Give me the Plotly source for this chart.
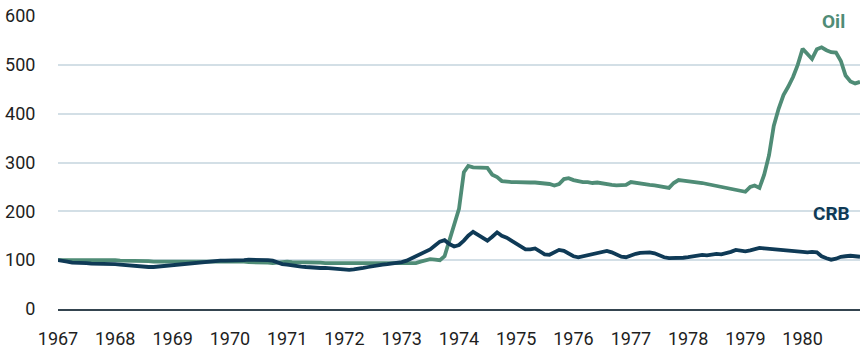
import pandas as pd
import plotly.graph_objects as go

# Monthly index values (Jan 1967 = 100), Jan 1967 .. Jan 1981
oil_1967 = [100, 100, 100, 100, 101, 101, 101, 101, 100, 100, 100, 100]
oil_1968 = [100, 99, 99, 99, 98, 98, 98, 98, 97, 97, 97, 97]
oil_1969 = [97, 97, 97, 97, 97, 97, 97, 98, 98, 98, 98, 98]
oil_1970 = [98, 97, 97, 97, 96, 96, 96, 95, 95, 94, 95, 97]
oil_1971 = [97, 96, 96, 96, 95, 95, 95, 95, 94, 94, 94, 94]
oil_1972 = [94, 93, 93, 93, 93, 93, 93, 93, 93, 93, 93, 93]
oil_1973 = [93, 93, 94, 94, 97, 100, 102, 101, 100, 108, 140, 175]
oil_1974 = [205, 280, 293, 290, 290, 289, 289, 275, 270, 262, 260, 260]
oil_1975 = [260, 259, 260, 259, 259, 258, 257, 256, 253, 256, 266, 268]
oil_1976 = [264, 261, 260, 260, 258, 259, 257, 256, 254, 253, 253, 254]
oil_1977 = [260, 258, 257, 256, 254, 253, 251, 249, 248, 258, 264, 263]
oil_1978 = [262, 261, 260, 258, 256, 254, 252, 250, 248, 246, 244, 241]
oil_1979 = [240, 250, 253, 248, 275, 315, 375, 410, 438, 455, 475, 500]
oil_1980 = [533, 522, 512, 532, 536, 530, 526, 525, 508, 478, 466, 462]
oil_1981 = [465]

crb_1967 = [100, 99, 97, 95, 95, 94, 94, 93, 93, 92, 92, 93]
crb_1968 = [92, 91, 90, 89, 88, 87, 86, 86, 86, 87, 88, 89]
crb_1969 = [90, 91, 92, 93, 94, 95, 96, 97, 98, 98, 99, 99]
crb_1970 = [99, 100, 100, 100, 101, 101, 101, 100, 100, 99, 95, 92]
crb_1971 = [91, 89, 88, 87, 86, 85, 85, 84, 84, 83, 82, 81]
crb_1972 = [80, 80, 81, 82, 84, 86, 88, 90, 91, 92, 93, 95]
crb_1973 = [96, 99, 103, 107, 112, 117, 122, 130, 138, 141, 133, 128]
crb_1974 = [131, 140, 150, 158, 152, 146, 140, 148, 157, 150, 146, 140]
crb_1975 = [133, 127, 122, 122, 124, 118, 112, 111, 116, 121, 119, 114]
crb_1976 = [108, 106, 108, 111, 114, 115, 118, 119, 116, 111, 107, 106]
crb_1977 = [110, 113, 115, 115, 116, 114, 109, 106, 104, 104, 104, 105]
crb_1978 = [106, 108, 109, 111, 110, 112, 113, 112, 114, 117, 121, 119]
crb_1979 = [118, 120, 123, 125, 124, 123, 121, 120, 119, 119, 118, 117]
crb_1980 = [117, 116, 117, 116, 108, 104, 101, 103, 107, 108, 109, 108]
crb_1981 = [107]

tick_years = [str(y) for y in range(1967, 1981)]

oil = (oil_1967 + oil_1968 + oil_1969 + oil_1970 + oil_1971 + oil_1972 + oil_1973 +
       oil_1974 + oil_1975 + oil_1976 + oil_1977 + oil_1978 + oil_1979 + oil_1980 + oil_1981)
crb = (crb_1967 + crb_1968 + crb_1969 + crb_1970 + crb_1971 + crb_1972 + crb_1973 +
       crb_1974 + crb_1975 + crb_1976 + crb_1977 + crb_1978 + crb_1979 + crb_1980 + crb_1981)
dates = pd.date_range("1967-01-01", periods=len(oil), freq="MS")

GREEN = "#4f8c76"
NAVY = "#0f3a56"

fig = go.Figure()
fig.add_trace(go.Scatter(x=dates, y=oil, mode="lines", name="Oil",
                         line=dict(color=GREEN, width=3.8)))
fig.add_trace(go.Scatter(x=dates, y=crb, mode="lines", name="CRB",
                         line=dict(color=NAVY, width=3.8)))

fig.add_annotation(x="1980-07-15", y=588, xref="x", yref="y", text="<b>Oil</b>",
                   showarrow=False, font=dict(family="Roboto", size=19, color=GREEN))
fig.add_annotation(x="1980-07-01", y=195, xref="x", yref="y", text="<b>CRB</b>",
                   showarrow=False, font=dict(family="Roboto", size=19, color=NAVY))

fig.update_layout(
    width=868, height=352,
    margin=dict(l=58, r=8, t=16, b=43, autoexpand=False),
    paper_bgcolor="white", plot_bgcolor="white",
    showlegend=False,
    font=dict(family="Roboto", size=18, color="#1e1e1e"),
)
fig.update_xaxes(
    range=["1967-01-01", "1981-01-01"],
    tickvals=[f"{y}-01-01" for y in tick_years], ticktext=tick_years,
    showgrid=False, showline=True, linecolor="#34444f", linewidth=2,
    ticks="outside", ticklen=12, tickcolor="rgba(0,0,0,0)",
    zeroline=False, automargin=False,
)
fig.update_yaxes(
    range=[0, 600], dtick=100,
    showgrid=True, gridcolor="#d3dfe6", gridwidth=1.5,
    zeroline=False, showline=False,
    ticks="outside", ticklen=18, tickcolor="rgba(0,0,0,0)",
    automargin=False,
)

fig.write_html("out.html")
